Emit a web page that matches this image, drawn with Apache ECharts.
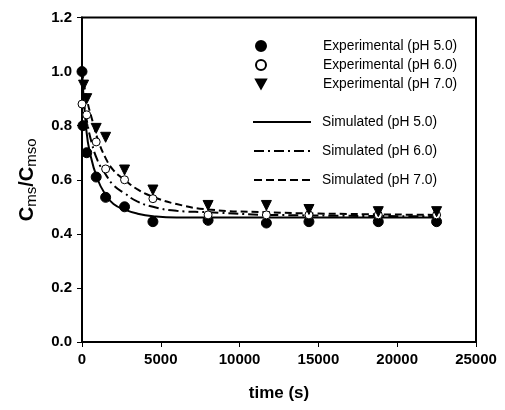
<!DOCTYPE html>
<html><head><meta charset="utf-8">
<script src="https://cdn.jsdelivr.net/npm/echarts@6/dist/echarts.min.js"></script>
<style>html,body{margin:0;padding:0;background:#fff}#c{width:505px;height:410px}</style>
</head><body><div id="c"></div>
<script>
// Experimental data
const exp5_t = [0, 60, 300, 900, 1500, 2700, 4500, 8000, 11700, 14400, 18800, 22500];
const exp5_v = [1.0, 0.80, 0.70, 0.61, 0.535, 0.50, 0.445, 0.45, 0.44, 0.445, 0.445, 0.445];
const exp6_t = [0, 300, 900, 1500, 2700, 4500, 8000, 11700, 14400, 18800, 22500];
const exp6_v = [0.88, 0.84, 0.74, 0.64, 0.60, 0.53, 0.47, 0.47, 0.47, 0.47, 0.47];
const exp7_t = [100, 300, 900, 1500, 2700, 4500, 8000, 11700, 14400, 18800, 22500];
const exp7_v = [0.95, 0.90, 0.79, 0.757, 0.636, 0.562, 0.505, 0.505, 0.49, 0.482, 0.482];
// Simulated curves
const sim5_t = [0, 250, 500, 1000, 1500, 2000, 2700, 3500, 4500, 6000, 10000, 22500];
const sim5_v = [1.0, 0.80, 0.70, 0.60, 0.545, 0.51, 0.49, 0.475, 0.465, 0.46, 0.46, 0.46];
const sim6_t = [0, 300, 600, 1000, 1500, 2000, 2700, 3500, 4500, 6000, 8000, 12000, 22500];
const sim6_v = [0.92, 0.82, 0.74, 0.67, 0.62, 0.58, 0.55, 0.52, 0.50, 0.485, 0.48, 0.47, 0.465];
const sim7_t = [0, 300, 700, 1000, 1500, 2000, 2700, 3500, 4500, 6000, 8000, 11700, 15000, 22500];
const sim7_v = [1.0, 0.90, 0.81, 0.75, 0.68, 0.635, 0.60, 0.565, 0.537, 0.51, 0.49, 0.48, 0.475, 0.47];
const xTicks = [0, 5000, 10000, 15000, 20000, 25000];
const yTicks = [0.0, 0.2, 0.4, 0.6, 0.8, 1.0, 1.2];

const zip = (t, v) => t.map((x, i) => [x, v[i]]);
const FONT = 'Liberation Sans, Arial, sans-serif';
const chart = echarts.init(document.getElementById('c'), null, {renderer: 'canvas'});
const lineSeries = (name, t, v, type) => ({
  name, type: 'line', data: zip(t, v), smooth: 0.5, showSymbol: false, symbol: 'none',
  lineStyle: {color: '#000', width: 2, type}, itemStyle: {color: '#000'}, z: 2
});
const scat = (name, t, v, extra) => Object.assign({
  name, type: 'scatter', data: zip(t, v), symbolSize: 10, z: 3,
  itemStyle: {color: '#000', borderColor: '#000', borderWidth: 1, opacity: 1}
}, extra);
const ICON_SOLID = 'path://M0,0h58v2.2h-58z';
const ICON_DASHDOT = 'path://M0,0h10v2.2h-10zM14,0h2v2.2h-2zM20,0h10v2.2h-10zM34,0h2v2.2h-2zM40,0h10v2.2h-10zM54,0h2v2.2h-2z';
const ICON_DASH = 'path://M0,0h8v2.2h-8zM12,0h8v2.2h-8zM24,0h8v2.2h-8zM36,0h8v2.2h-8zM48,0h8v2.2h-8z';
const ICON_TRI = 'path://M0,0L10,0L5,9Z';
const legText = {fontFamily: FONT, fontSize: 13.8, color: '#000'};
chart.setOption({
  animation: false,
  grid: {left: 82, right: 29, top: 17.5, bottom: 68, show: true, borderColor: '#000', borderWidth: 2},
  xAxis: {
    type: 'value', min: 0, max: 25000, interval: 5000,
    name: 'time (s)', nameLocation: 'middle', nameGap: 43,
    nameTextStyle: {fontFamily: FONT, fontWeight: 'bold', fontSize: 17, color: '#000'},
    axisLine: {lineStyle: {color: '#000', width: 2}},
    axisTick: {inside: false, length: 5, lineStyle: {color: '#000'}},
    axisLabel: {fontFamily: FONT, fontWeight: 'bold', fontSize: 15, color: '#000', margin: 10,
      formatter: v => String(v)},
    splitLine: {show: false}
  },
  yAxis: {
    type: 'value', min: 0, max: 1.2, interval: 0.2,
    name: '{b|C}{s|ms}{b|/C}{s|mso}', nameLocation: 'middle', nameGap: 43, nameRotate: 90,
    nameTextStyle: {rich: {
      b: {fontFamily: FONT, fontWeight: 'bold', fontSize: 20, color: '#000'},
      s: {fontFamily: FONT, fontWeight: 'normal', fontSize: 15, color: '#000', verticalAlign: 'bottom', padding: [9, 0, 0, 0]}
    }},
    axisLine: {lineStyle: {color: '#000', width: 2}},
    axisTick: {inside: false, length: 5, lineStyle: {color: '#000'}},
    axisLabel: {fontFamily: FONT, fontWeight: 'bold', fontSize: 15, color: '#000', margin: 10,
      formatter: v => v.toFixed(1)},
    splitLine: {show: false}
  },
  legend: [{
    data: [
      {name: 'Experimental (pH 5.0)', icon: 'circle'},
      {name: 'Experimental (pH 6.0)', icon: 'circle'},
      {name: 'Experimental (pH 7.0)', icon: ICON_TRI}
    ],
    orient: 'vertical', left: 250, top: 34, itemGap: 5, itemWidth: 10, itemHeight: 10,
    textStyle: Object.assign({padding: [0, 0, 0, 52]}, legText)
  }, {
    data: [
      {name: 'Simulated (pH 5.0)', icon: ICON_SOLID},
      {name: 'Simulated (pH 6.0)', icon: ICON_DASHDOT},
      {name: 'Simulated (pH 7.0)', icon: ICON_DASH}
    ],
    orient: 'vertical', left: 248, top: 110, itemGap: 15, itemWidth: 58, itemHeight: 2.2,
    textStyle: Object.assign({padding: [0, 0, 0, 6]}, legText)
  }],
  series: [
    lineSeries('Simulated (pH 5.0)', sim5_t, sim5_v, 'solid'),
    lineSeries('Simulated (pH 6.0)', sim6_t, sim6_v, [10, 4, 2, 4]),
    lineSeries('Simulated (pH 7.0)', sim7_t, sim7_v, [7, 4]),
    scat('Experimental (pH 5.0)', exp5_t, exp5_v, {symbol: 'circle'}),
    scat('Experimental (pH 6.0)', exp6_t, exp6_v, {symbol: 'circle', symbolSize: 8,
      itemStyle: {color: '#fff', borderColor: '#000', borderWidth: 1, opacity: 1}}),
    scat('Experimental (pH 7.0)', exp7_t, exp7_v, {symbol: 'triangle', symbolRotate: 180, symbolSize: 10})
  ]
});
</script></body></html>
